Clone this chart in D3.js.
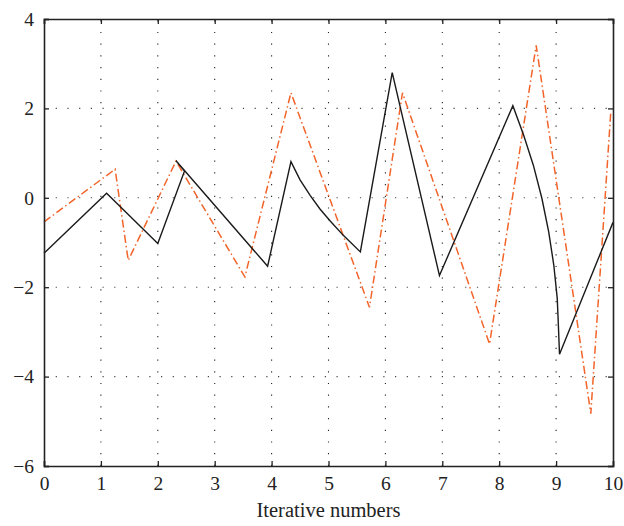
<!DOCTYPE html>
<html>
<head>
<meta charset="utf-8">
<script src="https://cdn.jsdelivr.net/npm/d3@7"></script>
<style>
  body { margin: 0; background: #fff; }
  svg { display: block; }
  text { font-family: "Liberation Serif", "DejaVu Serif", serif; fill: #222; }
</style>
</head>
<body>
<svg id="chart"></svg>
<script>
// x ticks and y ticks
const xTicks = [0, 1, 2, 3, 4, 5, 6, 7, 8, 9, 10];
const yTicks = [-6, -4, -2, 0, 2, 4];

// solid black series
const blackX = [0, 1.10, 2.00, 2.47, 2.32, 3.93, 4.34, 4.50, 4.68, 4.85, 5.03, 5.26, 5.56,
  6.12, 6.95, 8.24, 8.43, 8.60, 8.75, 8.87, 8.96, 9.02, 9.04, 9.06, 10];
const blackY = [-1.24, 0.10, -1.02, 0.60, 0.83, -1.53, 0.81, 0.40, 0.05, -0.25, -0.52, -0.84, -1.21,
  2.80, -1.74, 2.06, 1.40, 0.73, -0.01, -0.76, -1.51, -2.25, -2.85, -3.50, -0.55];

// orange dash-dot series
const orangeX = [0, 1.25, 1.48, 2.32, 3.53, 4.34, 5.72, 6.30, 7.83, 8.65, 9.61, 9.96];
const orangeY = [-0.54, 0.64, -1.40, 0.82, -1.77, 2.35, -2.45, 2.35, -3.27, 3.41, -4.83, 1.90];

const width = 624, height = 526;
const margin = {left: 44, right: 11, top: 19, bottom: 60};

const svg = d3.select('#chart')
  .attr('width', width)
  .attr('height', height);

const x = d3.scaleLinear()
  .domain([0, 10])
  .range([margin.left, width - margin.right]);
const y = d3.scaleLinear()
  .domain([-6, 4])
  .range([height - margin.bottom, margin.top]);

//grid
const grid = svg.append('g');
grid.selectAll('line.vg')
  .data(xTicks.slice(1, -1))
  .join('line')
  .attr('x1', d => x(d)).attr('x2', d => x(d))
  .attr('y1', y(-6)).attr('y2', y(4))
  .attr('stroke', '#222')
  .attr('stroke-width', 1.1)
  .attr('stroke-dasharray', '1.2,10.5');
grid.selectAll('line.hg')
  .data(yTicks.slice(1, -1))
  .join('line')
  .attr('y1', d => y(d)).attr('y2', d => y(d))
  .attr('x1', x(0)).attr('x2', x(10))
  .attr('stroke', '#444')
  .attr('stroke-width', 1.1)
  .attr('stroke-dasharray', '1.2,10.5');

// lines
const line = d3.line()
  .x(d => x(d[0]))
  .y(d => y(d[1]));

svg.append('path')
  .datum(orangeX.map((v, i) => [v, orangeY[i]]))
  .attr('d', line)
  .attr('fill', 'none')
  .attr('stroke', '#f2642a')
  .attr('stroke-width', 1.5)
  .attr('stroke-dasharray', '8,3,1.5,3');

svg.append('path')
  .datum(blackX.map((v, i) => [v, blackY[i]]))
  .attr('d', line)
  .attr('fill', 'none')
  .attr('stroke', '#1a1a1a')
  .attr('stroke-width', 1.4)
  .attr('stroke-linejoin', 'miter');

// axes box with inward ticks
const fmt = d => d < 0 ? '\u2212' + Math.abs(d) : String(d);

svg.append('g')
  .attr('transform', `translate(0,${y(-6)})`)
  .call(d3.axisBottom(x).tickValues(xTicks).tickSize(-5).tickPadding(10).tickFormat(fmt));
svg.append('g')
  .attr('transform', `translate(${x(0)},0)`)
  .call(d3.axisLeft(y).tickValues(yTicks).tickSize(-5).tickPadding(10).tickFormat(fmt));
svg.append('g')
  .attr('transform', `translate(0,${y(4)})`)
  .call(d3.axisTop(x).tickValues(xTicks).tickSize(-5).tickFormat(''));
svg.append('g')
  .attr('transform', `translate(${x(10)},0)`)
  .call(d3.axisRight(y).tickValues(yTicks).tickSize(-5).tickFormat(''));

svg.selectAll('.domain').attr('stroke', '#222').attr('stroke-width', 1.6);
svg.selectAll('.tick line').attr('stroke', '#222').attr('stroke-width', 1.3);
svg.selectAll('.tick text')
  .style('font-family', '"Liberation Serif", "DejaVu Serif", serif')
  .style('font-size', '19.5px')
  .attr('fill', '#222');

svg.append('text')
  .attr('x', (x(0) + x(10)) / 2)
  .attr('y', 517)
  .attr('text-anchor', 'middle')
  .style('font-size', '20.5px')
  .text('Iterative numbers');
</script>
</body>
</html>
